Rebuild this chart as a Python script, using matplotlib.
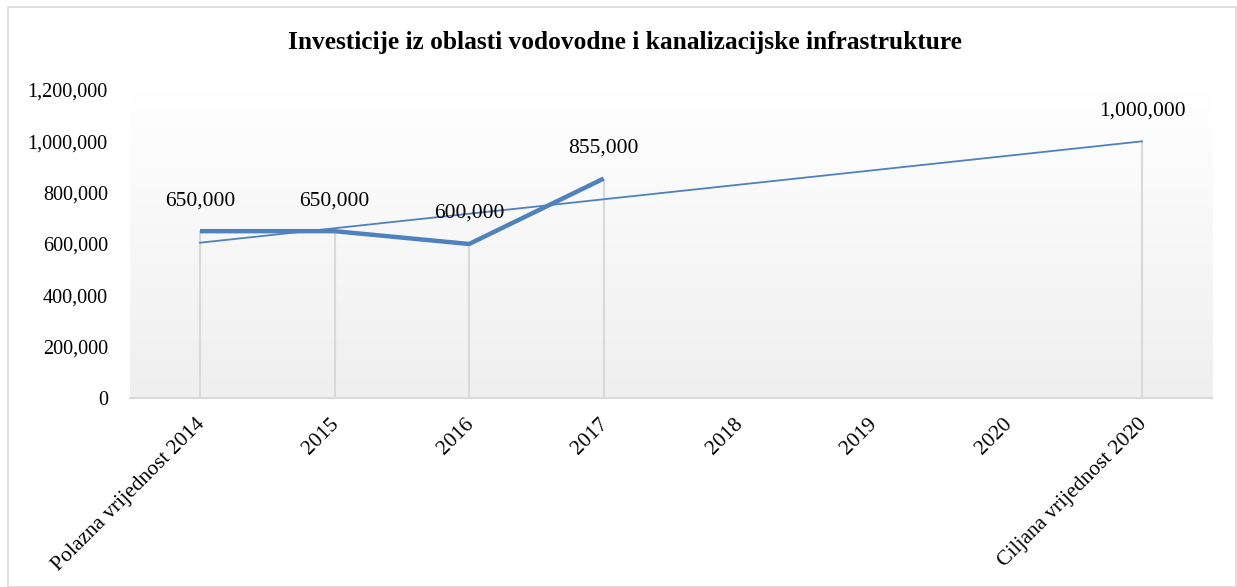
import numpy as np
import matplotlib.pyplot as plt
import matplotlib.transforms as mtrans
from matplotlib.patches import Rectangle
from matplotlib.colors import LinearSegmentedColormap

plt.rcParams['font.family'] = ['Liberation Serif', 'DejaVu Serif']

# Categories on the x axis
categories = ['Polazna vrijednost 2014', '2015', '2016', '2017',
              '2018', '2019', '2020', 'Ciljana vrijednost 2020']

# Realised investments (thick line)
actual = [650000, 650000, 600000, 855000, np.nan, np.nan, np.nan, np.nan]
# Baseline -> target line (thin line)
target = [605000, np.nan, np.nan, np.nan, np.nan, np.nan, np.nan, 1000000]

title = 'Investicije iz oblasti vodovodne i kanalizacijske infrastrukture'
blue = '#4F81BD'

fig = plt.figure(figsize=(12.37, 5.87), dpi=100)
ax = fig.add_axes([130 / 1237, 1 - 398 / 587, (1212 - 130) / 1237, (398 - 90) / 587])

x = np.arange(len(categories))
xlo, xhi = -0.52, len(categories) - 0.48
ax.set_xlim(xlo, xhi)
ax.set_ylim(0, 1200000)

# gradient background of plot area
grad = np.linspace(1, 0, 256).reshape(-1, 1)
ax.imshow(grad, extent=[xlo, xhi, 0, 1200000], aspect='auto',
          cmap=LinearSegmentedColormap.from_list('g', ['#efefef', '#ffffff']),
          origin='upper', zorder=0)

# drop lines
act = np.array(actual, dtype=float)
tgt = np.array(target, dtype=float)
top = np.fmax(act, tgt)
for xi, v in zip(x, top):
    if not np.isnan(v):
        ax.vlines(xi, 0, v, color='#d9d9d9', lw=1.5, zorder=1)

# thin target line (connect across gaps)
m = ~np.isnan(tgt)
ax.plot(x[m], tgt[m], color=blue, lw=1.3, zorder=2)
# thick actual line
m2 = ~np.isnan(act)
ax.plot(x[m2], act[m2], color=blue, lw=3.2, zorder=3, solid_capstyle='butt')

# data labels
for xi, v in zip(x[m2], act[m2]):
    ax.annotate(f'{v:,.0f}', (xi, v), xytext=(0, 22), textcoords='offset points',
                ha='center', va='center', fontsize=15.5, zorder=4)
ax.annotate(f'{tgt[-1]:,.0f}', (x[-1], tgt[-1]), xytext=(0, 22), textcoords='offset points',
            ha='center', va='center', fontsize=15.5, zorder=4)

ax.set_yticks(np.arange(0, 1200001, 200000))
ax.yaxis.set_major_formatter(plt.FuncFormatter(lambda v, p: f'{v:,.0f}'))
ax.set_xticks(x)
ax.set_xticklabels(categories, rotation=45, ha='right', rotation_mode='anchor', fontsize=15.5)
ax.tick_params(axis='y', length=0, labelsize=14.5, pad=16)
ax.tick_params(axis='x', length=0, pad=12)
shift = mtrans.ScaledTranslation(-5 / 100, 0, fig.dpi_scale_trans)
for lab in ax.get_xticklabels():
    lab.set_transform(lab.get_transform() + shift)

for s in ['top', 'right', 'left']:
    ax.spines[s].set_visible(False)
ax.spines['bottom'].set_color('#d9d9d9')
ax.spines['bottom'].set_linewidth(1.5)

fig.text(625 / 1237, 1 - 42 / 587, title, ha='center', va='center', fontsize=18.3, fontweight='bold')

# chart border
fig.patches.append(Rectangle((8 / 1237, 0), 1 - 9 / 1237, 1 - 7 / 587, transform=fig.transFigure,
                             fill=False, edgecolor='#d9d9d9', lw=1.2))

fig.savefig('out.png', dpi=100)
